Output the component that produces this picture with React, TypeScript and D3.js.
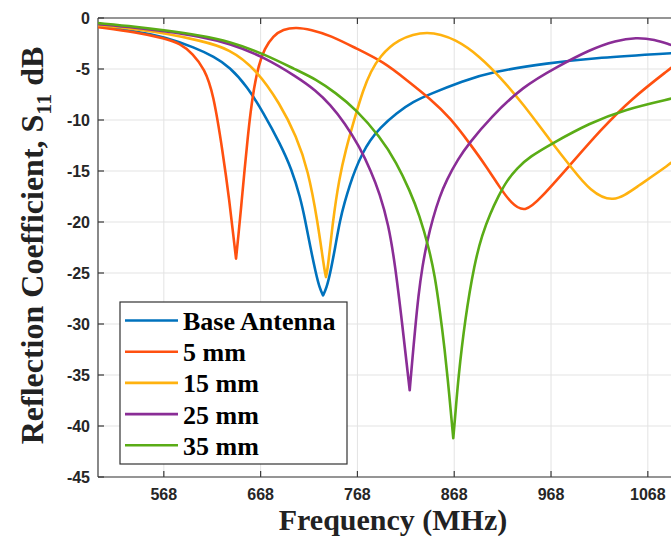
import React from 'react';
import * as d3 from 'd3';

// frequency (MHz), S11 (dB)
const baseAntenna: [number, number][] = [
  [500, -0.8], [540, -1.3], [570, -1.9], [600, -2.9], [620, -3.8], [636, -4.8],
  [654, -6.7], [671, -9.3], [688, -12.3], [700, -14.8], [709, -17.6], [714, -19.8],
  [719, -22.3], [725, -25], [729, -26.5], [732.5, -27.2], [736, -26.5], [740, -25],
  [745, -22.5], [750, -19.8], [755, -18.0], [760, -16.4], [766, -14.8], [773, -13.3],
  [781, -12.0], [791, -10.8], [808.6, -9.3], [825.7, -8.2], [843, -7.45], [877, -6.2],
  [905, -5.3], [967, -4.4], [1008, -3.95], [1092, -3.46], [1100, -3.4],
];

const mm5: [number, number][] = [
  [500, -0.9], [540, -1.4], [569, -2.0], [585, -2.5], [598, -3.5], [610, -5.0],
  [619, -7.3], [629, -13.2], [636, -18.1], [640, -21.5], [642.6, -23.6], [645, -21.4],
  [648.4, -18.0], [651.5, -14.8], [654.5, -11.9], [657.5, -9.3], [661, -6.9], [666, -4.6],
  [672, -3.0], [681, -1.75], [691, -1.1], [705, -0.9], [720, -1.15], [740, -1.7],
  [767, -3.0], [795, -4.3], [819, -6.1], [843, -7.9], [864, -9.8], [884, -12.3],
  [901.5, -14.6], [915, -16.6], [927, -18.2], [941, -19.1], [957, -17.7], [986, -14.6],
  [1019, -11.0], [1050, -8.0], [1092, -4.9], [1100, -4.3],
];

const mm15: [number, number][] = [
  [500, -0.7], [540, -1.1], [569, -1.5], [605, -2.2], [636, -3.0], [664, -5.1],
  [688, -8.4], [705, -11.6], [717, -14.9], [727, -20], [733.5, -24.5], [735.5, -25.4],
  [737.5, -24.5], [742.5, -20], [749, -15.8], [756, -12.9], [764, -10.2], [774, -7.0],
  [782, -5.2], [791, -3.8], [809, -2.1], [840, -1.15], [870.5, -2.1], [894.6, -3.8],
  [915, -5.75], [939, -8.4], [967, -12.0], [991, -14.9], [1008, -16.9], [1032, -18.2],
  [1056, -16.6], [1092, -14.25], [1100, -13.6],
];

const mm25: [number, number][] = [
  [500, -0.6], [540, -0.95], [569, -1.3], [605, -1.8], [636, -2.5], [671, -3.8],
  [705, -5.75], [725, -7.1], [740, -8.5], [755, -10.3], [770, -12.6], [782, -15.0],
  [791, -17.2], [800, -20.2], [807, -24.2], [815, -30.6], [819, -34], [822, -36.5],
  [825, -33.2], [827.5, -30.6], [831, -27.2], [835, -24.4], [840, -21.9], [846, -19.6],
  [853, -17.5], [860, -15.9], [872, -13.8], [884, -12.2], [905, -9.8], [939, -6.7],
  [974, -4.8], [1008, -3.1], [1035, -2.2], [1056, -1.9], [1075, -2.1], [1092, -2.65],
  [1100, -2.85],
];

const mm35: [number, number][] = [
  [500, -0.5], [540, -0.85], [569, -1.2], [605, -1.7], [636, -2.3], [671, -3.5],
  [705, -5.1], [725, -6.0], [745, -7.3], [767, -9.0], [791, -11.6], [808.6, -14.2],
  [822, -16.9], [832, -19.3], [842, -22.6], [848, -25.3], [853, -28.6], [858, -32.3],
  [863, -37], [867, -41.2], [869.5, -38.5], [872, -35.5], [879, -29.6], [889, -24],
  [897, -21.2], [905, -19.2], [914, -17.4], [922, -16.0], [933, -14.7], [946, -13.6],
  [969, -12.3], [1008, -10.3], [1043, -9.0], [1092, -7.9], [1100, -7.75],
];

const seriesNames = ['Base Antenna', '5 mm', '15 mm', '25 mm', '35 mm'];
const seriesData = [baseAntenna, mm5, mm15, mm25, mm35];
const colors = ['#0072BD', '#FF5010', '#FFB20F', '#8A2D96', '#5AAC16'];

const xTicks = [568, 668, 768, 868, 968, 1068];
const yTicks = [0, -5, -10, -15, -20, -25, -30, -35, -40, -45];

const W = 671;
const H = 536;
const margin = { left: 98, top: 18, right: 0, bottom: 59 };

// keep the resonance tip sharp: repeat the deepest point so the spline passes through it
function withSharpTip(s: [number, number][]) {
  const k = d3.minIndex(s, (d) => d[1]);
  return [...s.slice(0, k), s[k], s[k], ...s.slice(k)];
}

export default function App() {
  const x = d3.scaleLinear().domain([500, 1100]).range([margin.left, margin.left + 600 * 0.968]);
  const y = d3.scaleLinear().domain([-45, 0]).range([H - margin.bottom, margin.top]);
  const line = d3
    .line<[number, number]>()
    .x((d) => x(d[0]))
    .y((d) => y(d[1]))
    .curve(d3.curveBasis);

  const x0 = x(500);
  const x1 = x(1100);
  const y0 = y(-45);
  const y1 = y(0);
  const axisColor = '#3a3a3a';
  const tickFont = { fontFamily: 'Liberation Sans, Arial, sans-serif', fontWeight: 700, fontSize: 16, fill: '#262626' };
  const serif = 'Liberation Serif, Times New Roman, serif';

  const legendX = 120;
  const legendY = 302;
  const rowGap = 31.2;

  return (
    <svg width={W} height={H} style={{ position: 'absolute', left: 0, top: 0, background: '#fff' }}>
      <defs>
        <clipPath id="plot">
          <rect x={x0} y={y1} width={x1 - x0} height={y0 - y1} />
        </clipPath>
      </defs>
      <rect x={0} y={0} width={W} height={H} fill="#fff" />
      {/* grid */}
      <g stroke="#e3e3e3" strokeWidth={1}>
        {xTicks.map((t) => (
          <line key={'gx' + t} x1={x(t)} x2={x(t)} y1={y1} y2={y0} />
        ))}
        {yTicks.map((t) => (
          <line key={'gy' + t} x1={x0} x2={x1} y1={y(t)} y2={y(t)} />
        ))}
      </g>
      {/* axes box */}
      <g stroke={axisColor} strokeWidth={1.2} fill="none">
        <line x1={x0} x2={x1} y1={y1} y2={y1} />
        <line x1={x0} x2={x1} y1={y0} y2={y0} />
        <line x1={x0} x2={x0} y1={y1} y2={y0} />
        {xTicks.map((t) => (
          <g key={'tx' + t}>
            <line x1={x(t)} x2={x(t)} y1={y0} y2={y0 - 6} />
            <line x1={x(t)} x2={x(t)} y1={y1} y2={y1 + 6} />
          </g>
        ))}
        {yTicks.map((t) => (
          <line key={'ty' + t} x1={x0} x2={x0 + 6} y1={y(t)} y2={y(t)} />
        ))}
      </g>
      {/* tick labels */}
      {xTicks.map((t) => (
        <text key={'lx' + t} x={x(t)} y={y0 + 22.5} textAnchor="middle" style={tickFont}>
          {t}
        </text>
      ))}
      {yTicks.map((t) => (
        <text key={'ly' + t} x={x0 - 8} y={y(t) + 6} textAnchor="end" style={tickFont}>
          {t}
        </text>
      ))}
      {/* curves */}
      <g clipPath="url(#plot)" fill="none" strokeWidth={2.6} strokeLinejoin="round">
        {seriesData.map((s, i) => (
          <path key={seriesNames[i]} d={line(withSharpTip(s)) || ''} stroke={colors[i]} />
        ))}
      </g>
      {/* legend */}
      <rect x={legendX} y={legendY} width={227} height={162} fill="#fff" stroke="#333" strokeWidth={1.2} />
      {seriesNames.map((name, i) => {
        const by = 330 + i * rowGap;
        return (
          <g key={'lg' + name}>
            <line x1={125} x2={178} y1={by - 9.5} y2={by - 9.5} stroke={colors[i]} strokeWidth={2.6} />
            <text x={183} y={by} style={{ fontFamily: serif, fontWeight: 700, fontSize: 26, fill: '#000' }}>
              {name}
            </text>
          </g>
        );
      })}
      {/* axis titles */}
      <text
        x={393}
        y={529.5}
        textAnchor="middle"
        style={{ fontFamily: serif, fontWeight: 700, fontSize: 30, fill: '#222' }}
      >
        Frequency (MHz)
      </text>
      <text
        transform="translate(43,245.5) rotate(-90)"
        textAnchor="middle"
        style={{ fontFamily: serif, fontWeight: 700, fontSize: 32, fill: '#222' }}
      >
        Reflection Coefficient, S
        <tspan fontSize={22} dy={8}>
          11
        </tspan>
        <tspan dy={-8}> dB</tspan>
      </text>
    </svg>
  );
}
